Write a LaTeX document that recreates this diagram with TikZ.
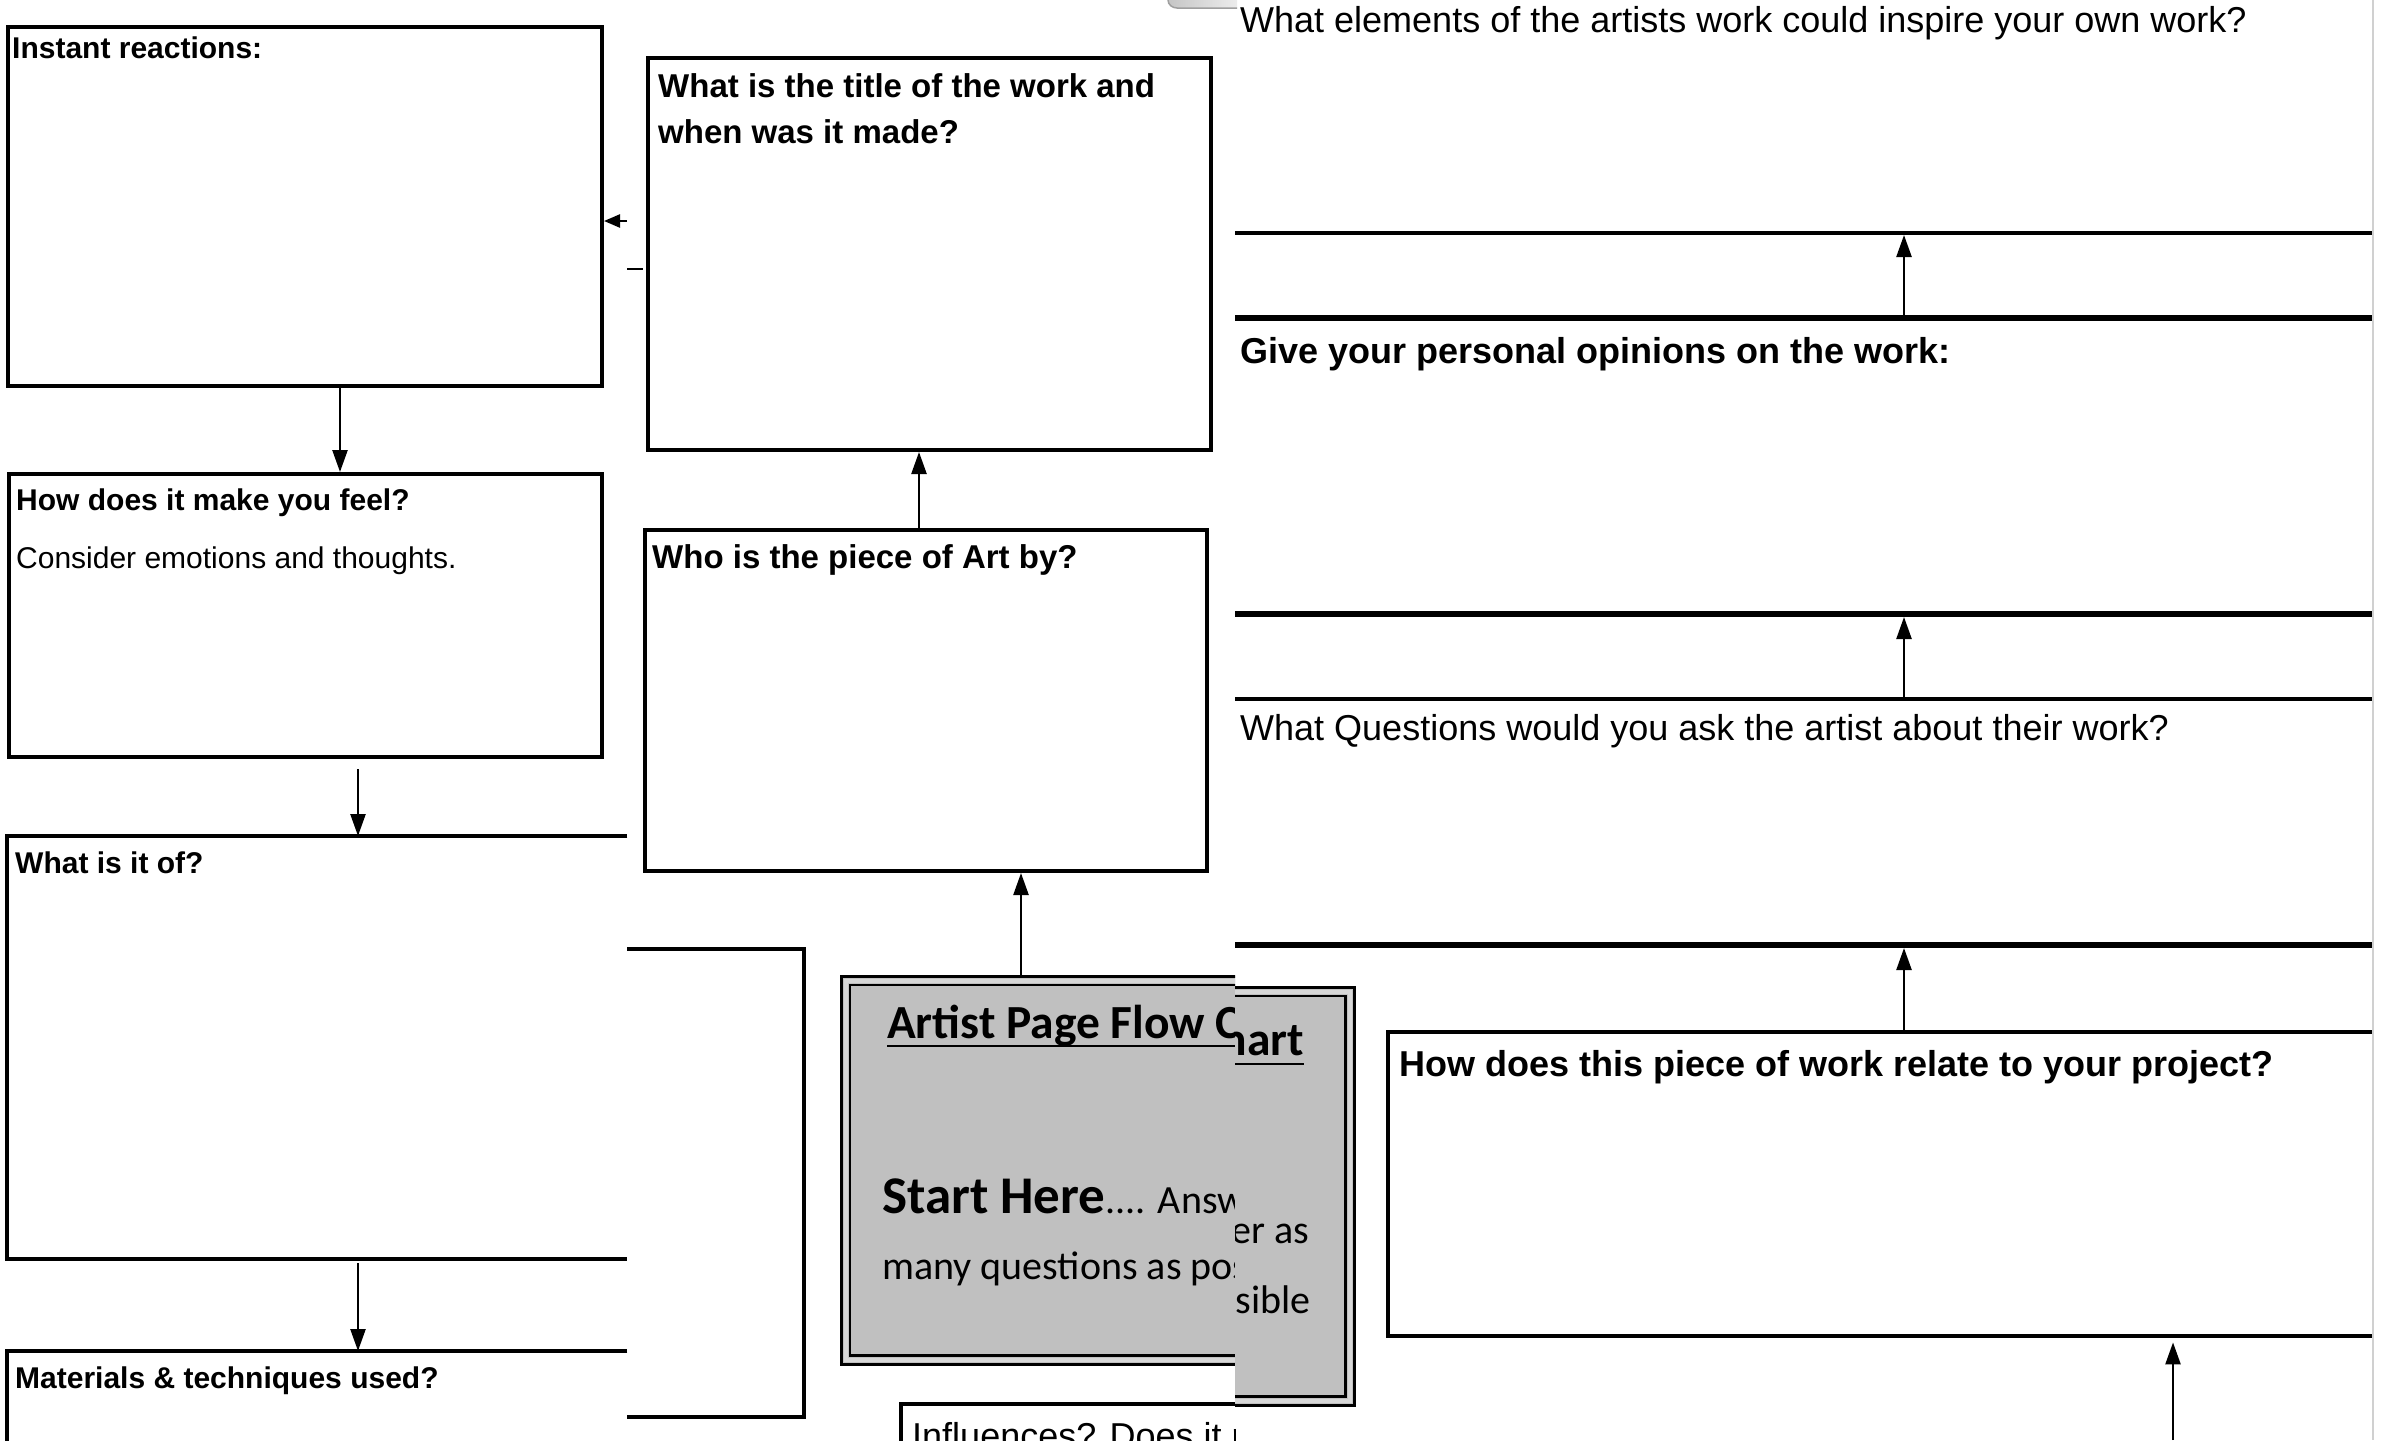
\documentclass[tikz,border=0pt]{standalone}
\usepackage{fontspec}
\setmainfont{Liberation Sans}
\newfontfamily\carl{Carlito}
\usetikzlibrary{arrows.meta}
\definecolor{startgray}{RGB}{192,192,192}
\definecolor{ringgray}{RGB}{215,215,215}
\definecolor{edgegray}{RGB}{208,208,208}
\begin{document}
\begin{tikzpicture}[x=1pt,y=-1pt,
  frame/.style={draw=black, line width=4pt, inner sep=0pt, anchor=north west},
  area/.style={inner sep=0pt, anchor=north west},
  edge3/.style={line width=4pt},
  arr/.style={line width=2.4pt, -{Triangle[length=22pt,width=15pt]}},
  arrsmall/.style={line width=2.4pt, -{Triangle[length=16pt,width=13pt]}},
  lbl/.style={anchor=base west, inner sep=0pt},
  lblr/.style={anchor=base east, inner sep=0pt},
  fl/.style={font=\fontsize{30}{36}\selectfont\bfseries},
  flr/.style={font=\fontsize{30}{36}\selectfont},
  fm/.style={font=\fontsize{33}{40}\selectfont\bfseries},
  fr/.style={font=\fontsize{36}{43}\selectfont},
  frb/.style={font=\fontsize{36}{43}\selectfont\bfseries},
  ftitle/.style={font=\carl\fontsize{47.5}{54}\selectfont\bfseries},
  fbody/.style={font=\carl\fontsize{40}{46}\selectfont},
  hline/.style={line width=4.5pt},
  hlinethick/.style={line width=6.5pt},
]
\useasboundingbox (0,0) rectangle (2382,1440);
\clip (0,0) rectangle (2382,1440);
\fill[white] (0,0) rectangle (2382,1440);

% ---------- left column ----------
\node[frame, minimum width=594pt, minimum height=359pt] (instant) at (6,25) {};
\node[lbl, fl] (tinstant) at (12,58) {Instant reactions:};

\node[frame, minimum width=593pt, minimum height=283pt] (feel) at (7,472) {};
\node[lbl, fl] (tfeel) at (16,510) {How does it make you feel?};
\node[lbl, flr] (tfeel2) at (16,568) {Consider emotions and thoughts.};

\node[area, minimum width=620pt, minimum height=423pt] (whatof) at (7,836) {};
\draw[edge3] (whatof.north east) -- (whatof.north west) -- (whatof.south west) -- (whatof.south east);
\node[lbl, fl] (twhatof) at (15,873) {What is it of?};

\node[area, minimum width=620pt, minimum height=120pt] (materials) at (7,1351) {};
\draw[line width=4.5pt] (materials.north east) -- (materials.north west) -- (materials.south west);
\node[lbl, fl] (tmaterials) at (15,1388) {Materials \& techniques used?};

\node[area, minimum width=177pt, minimum height=468pt] (bracket) at (627,949) {};
\draw[edge3] (bracket.north west) -- (bracket.north east) -- (bracket.south east) -- (bracket.south west);

\coordinate (xa) at (340,0);
\draw[arr] (instant.south -| xa) -- (feel.north -| xa);
\coordinate (xb) at (358,0);
\draw[arr, shorten <=10pt] (feel.south -| xb) -- (whatof.north -| xb);
\draw[arr, shorten <=4pt] (whatof.south -| xb) -- (materials.north -| xb);

\coordinate (sa) at (627,221);
\draw[arrsmall] (sa) -- (sa -| instant.east);
\coordinate (d1) at (627,269);
\coordinate (d2) at (643,269);
\draw[line width=2.5pt] (d1) -- (d2);

% ---------- middle column ----------
\node[frame, minimum width=563pt, minimum height=392pt] (title) at (646,56) {};
\node[lbl, fm] (ttitle1) at (658,97) {What is the title of the work and};
\node[lbl, fm] (ttitle2) at (658,143) {when was it made?};

\node[frame, minimum width=562pt, minimum height=341pt] (who) at (643,528) {};
\node[lbl, fm] (twho) at (652,568) {Who is the piece of Art by?};

\coordinate (xc) at (919,0);
\draw[arr] (who.north -| xc) -- (title.south -| xc);

% start box, left rendering (cut at x = 1235)
\begin{scope}
\clip (0,0) rectangle (1235,1440);
\node[area, minimum width=480pt, minimum height=388pt, fill=startgray] (startA) at (841,976) {};
\draw[line width=4pt, ringgray] ([shift={(4.5,4.5)}]startA.north west) rectangle ([shift={(-4.5,-4.5)}]startA.south east);
\draw[line width=3pt] (startA.north west) rectangle (startA.south east);
\draw[line width=2.5pt] ([shift={(9,9)}]startA.north west) rectangle ([shift={(-9,-9)}]startA.south east);
\node[lbl, ftitle] (tA1) at (887,1038) {Artist Page Flow Ch};
\draw[line width=2.5pt] ([yshift=-8]tA1.base west) -- ([yshift=-8]tA1.base east);
\node[lbl, fbody] (tA2) at (882,1213) {{\fontsize{53}{60}\selectfont\bfseries Start Here}.... Answe};
\node[lbl, fbody] (tA3) at (882,1279) {many questions as pos};

\node[area, minimum width=340pt, minimum height=60pt] (infl) at (901,1404) {};
\draw[edge3] (infl.south west) -- (infl.north west) -- (infl.north east);
\node[lbl, fr] (tinfl) at (912,1448) {Influences? Does it re};
\end{scope}

\coordinate (xd) at (1021,0);
\draw[arr] (startA.north -| xd) -- (who.south -| xd);

% start box, right rendering (from x = 1235)
\begin{scope}
\clip (1235,0) rectangle (2382,1440);
\node[area, minimum width=474pt, minimum height=418pt, fill=startgray] (startB) at (880,987) {};
\draw[line width=4pt, ringgray] ([shift={(4.5,4.5)}]startB.north west) rectangle ([shift={(-4.5,-4.5)}]startB.south east);
\draw[line width=3pt] (startB.north west) rectangle (startB.south east);
\draw[line width=2.5pt] ([shift={(9,9)}]startB.north west) rectangle ([shift={(-9,-9)}]startB.south east);
\node[lblr, ftitle] (tB1) at (1304,1055) {Chart};
\draw[line width=2.5pt] ([yshift=-9]tB1.base west) -- ([yshift=-9]tB1.base east);
\node[lblr, fbody] (tB2) at (1309,1243) {Answer as};
\node[lblr, fbody] (tB3) at (1311,1313) {possible};
\end{scope}

% ---------- right column ----------
\shade[left color=gray!45, right color=gray!15] (1168,-5) -- (1168,0) to[out=-90,in=180] (1177,8) -- (1237,8) -- (1237,-5) -- cycle;
\draw[gray!75, line width=1.5pt] (1168,-5) -- (1168,0) to[out=-90,in=180] (1177,8) -- (1237,8);

\node[lbl, fr] (tinspire) at (1240,32) {What elements of the artists work could inspire your own work?};

\coordinate (l1w) at (1235,233); \coordinate (l1e) at (2372,233);
\coordinate (l2w) at (1235,318); \coordinate (l2e) at (2372,318);
\coordinate (l3w) at (1235,614); \coordinate (l3e) at (2372,614);
\coordinate (l4w) at (1235,699); \coordinate (l4e) at (2372,699);
\coordinate (l5w) at (1235,945); \coordinate (l5e) at (2372,945);
\draw[hline] (l1w) -- (l1e);
\draw[hlinethick] (l2w) -- (l2e);
\draw[hlinethick] (l3w) -- (l3e);
\draw[hline] (l4w) -- (l4e);
\draw[hlinethick] (l5w) -- (l5e);

\node[lbl, frb] (topinion) at (1240,363) {Give your personal opinions on the work:};
\node[lbl, fr] (tquestions) at (1240,740) {What Questions would you ask the artist about their work?};

\node[area, minimum width=984pt, minimum height=304pt] (relate) at (1388,1032) {};
\draw[edge3] (relate.north east) -- (relate.north west) -- (relate.south west) -- (relate.south east);
\node[lbl, frb] (trelate) at (1399,1076) {How does this piece of work relate to your project?};

\coordinate (xr) at (1904,0);
\draw[arr, shorten <=2pt, shorten >=2pt] (l2w -| xr) -- (l1w -| xr);
\draw[arr, shorten <=2pt, shorten >=3pt] (l4w -| xr) -- (l3w -| xr);
\draw[arr, shorten >=3pt] (relate.north -| xr) -- (l5w -| xr);
\coordinate (r4s) at (2173,1440);
\draw[arr, shorten >=6pt] (r4s) -- (relate.south -| r4s);

\draw[line width=2.5pt, edgegray] (2373,0) -- (2373,1440);
\end{tikzpicture}
\end{document}
